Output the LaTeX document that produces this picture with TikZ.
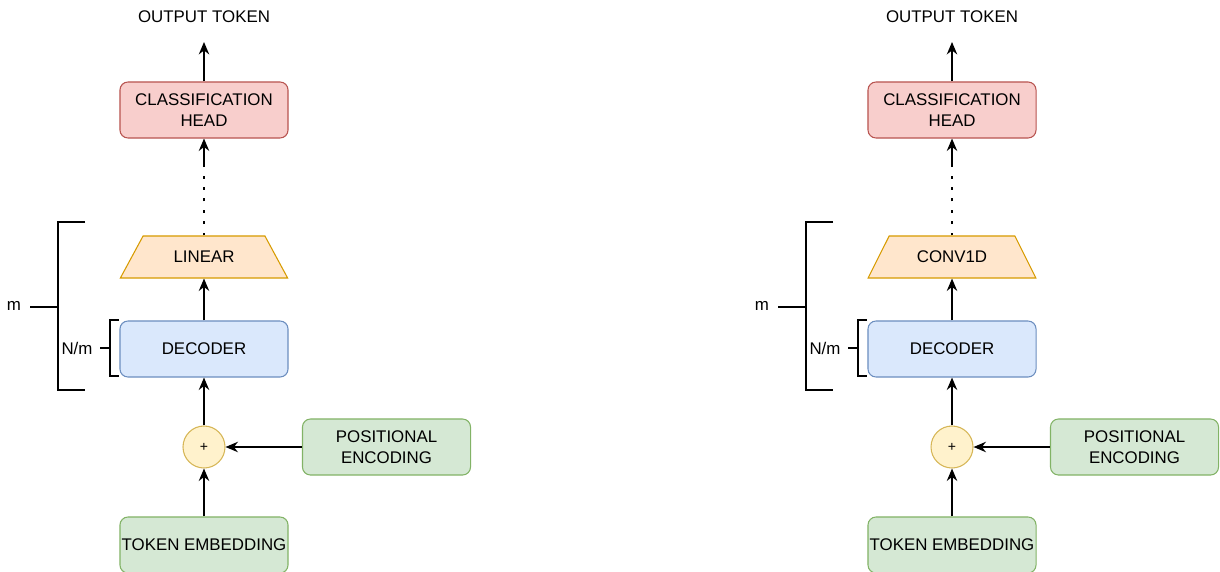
\documentclass[tikz,border=0pt]{standalone}
\usepackage{fontspec}
\setmainfont{Liberation Sans}
\usetikzlibrary{arrows.meta,shapes.geometric}
\definecolor{headfill}{HTML}{F8CECC}
\definecolor{headdraw}{HTML}{B85450}
\definecolor{linfill}{HTML}{FFE6CC}
\definecolor{lindraw}{HTML}{D79B00}
\definecolor{decfill}{HTML}{DAE8FC}
\definecolor{decdraw}{HTML}{6C8EBF}
\definecolor{addfill}{HTML}{FFF2CC}
\definecolor{adddraw}{HTML}{D6B656}
\definecolor{embfill}{HTML}{D5E8D4}
\definecolor{embdraw}{HTML}{82B366}
\tikzset{
	txt/.style={font=\fontsize{12}{15}\selectfont, align=center},
	block/.style={txt, draw, rounded corners=0.2cm, line width=0.75pt, minimum width=4.2cm, minimum height=1.4cm, inner sep=1pt},
	layer/.style={txt, draw=lindraw, fill=linfill, line width=0.75pt, trapezium, trapezium angle=58, trapezium stretches=true, minimum width=4.2cm, minimum height=1.05cm},
	addop/.style={circle, draw=adddraw, fill=addfill, line width=0.75pt, minimum size=1.05cm, inner sep=0pt, font=\fontsize{10}{11}\selectfont},
	flow/.style={-{Stealth[length=3.1mm, width=2.6mm, inset=1mm]}, line width=1.1pt},
	brace/.style={line width=1.7pt}
}

\begin{document}
\begin{tikzpicture}[x=0.025cm, y=-0.025cm]
	\useasboundingbox (0,0) rectangle (1220,571);
	\foreach \dx/\lab/\n in {0/LINEAR/l, 748/CONV1D/r}{
		\begin{scope}[shift={(\dx,0)}]
			%BLOCKS
			\node[txt] (out\n) at (204,17) {OUTPUT TOKEN};
			\coordinate (outtip\n) at (204,42);
			\node[block, draw=headdraw, fill=headfill] (head\n) at (204,110) {CLASSIFICATION\\HEAD};
			\node[layer] (lin\n) at (204,257) {\lab};
			\coordinate (dotend\n) at (204,165);
			\node[block, draw=decdraw, fill=decfill] (dec\n) at (204,349) {DECODER};
			\node[addop] (add\n) at (204,447) {+};
			\node[block, draw=embdraw, fill=embfill] (pos\n) at (386.5,447) {POSITIONAL\\ENCODING};
			\node[block, draw=embdraw, fill=embfill] (emb\n) at (204,545) {TOKEN EMBEDDING};
			%ARROWS
			\draw[flow] (emb\n) -- (add\n);
			\draw[flow] (pos\n) -- (add\n);
			\draw[flow] (add\n) -- (dec\n);
			\draw[flow] (dec\n) -- (lin\n.bottom side);
			\draw[line width=2.1pt, dash pattern=on 2.1pt off 6pt] (lin\n.top side) -- (dotend\n);
			\draw[flow] (dotend\n) -- (head\n);
			\draw[flow] (head\n) -- (outtip\n);
			%BRACKETS
			\draw[brace] (85,222) -- (58,222) -- (58,390) -- (85,390);
			\draw[brace] (30,307) -- (58,307);
			\node[txt] (m\n) at (14,306) {m};
			\draw[brace] (119,320) -- (110,320) -- (110,376) -- (119,376);
			\draw[brace] (100,348) -- (110,348);
			\node[txt] (nm\n) at (77,348) {N/m};
		\end{scope}
	}
\end{tikzpicture}
\end{document}
